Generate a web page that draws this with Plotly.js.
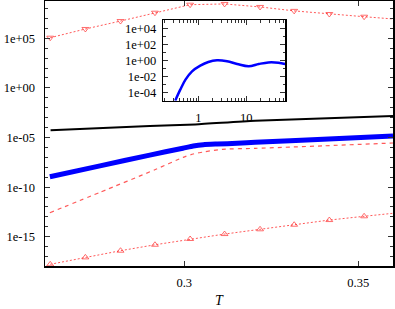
<!DOCTYPE html>
<html>
<head>
<meta charset="utf-8">
<script src="https://cdn.plot.ly/plotly-3.0.1.min.js"></script>
<style>html,body{margin:0;padding:0;background:#fff;}#chart{width:395px;height:309px;}</style>
</head>
<body>
<div id="chart"></div>
<script>
// ---- data ----
// upper red dotted series with down-triangle markers
const topX = [0.2615, 0.2716, 0.2817, 0.2916, 0.3017, 0.3116, 0.3218, 0.3316, 0.3417, 0.3517, 0.36];
const topY = [1.15e5, 8.7e5, 5.5e6, 3.8e7, 2.45e8, 2.9e8, 1.45e8, 5.8e7, 2.8e7, 1.5e7, 8.9e6];
const topMarkSize = [6, 6, 6, 6, 6, 6, 6, 6, 6, 6, 0];
// black solid series
const blackX = [0.2616, 0.2901, 0.3032, 0.3204, 0.36];
const blackY = [5.4e-5, 1.45e-4, 2.1e-4, 4.9e-4, 1.5e-3];
// thick blue series
const blueX = [0.2614, 0.2758, 0.2901, 0.2996, 0.3026, 0.3055, 0.3095, 0.3152, 0.3204, 0.3399, 0.36];
const blueY = [1.1e-9, 1.4e-8, 1.7e-7, 8.3e-7, 1.4e-6, 1.9e-6, 2.2e-6, 2.6e-6, 3.3e-6, 6.8e-6, 1.4e-5];
// red dashed series
const dashX = [0.2614, 0.2759, 0.2917, 0.2997, 0.3026, 0.3060, 0.3109, 0.3204, 0.3399, 0.36];
const dashY = [2.6e-13, 3.1e-11, 5.9e-9, 1.0e-7, 2.2e-7, 3.7e-7, 6.5e-7, 8.1e-7, 1.45e-6, 2.8e-6];
// lower red dotted series with up-triangle markers
const botX = [0.2615, 0.2716, 0.2817, 0.2916, 0.3017, 0.3116, 0.3218, 0.3316, 0.3417, 0.3517, 0.36];
const botY = [1.66e-18, 8.3e-18, 3.9e-17, 1.55e-16, 5.9e-16, 1.86e-15, 5.6e-15, 1.62e-14, 4.8e-14, 1.15e-13, 2.3e-13];
const botMarkSize = [6, 6, 6, 6, 6, 6, 6, 6, 6, 6, 0];
// inset blue curve
const insetX = [0.33, 0.42, 0.54, 0.74, 1.1, 1.62, 2.45, 3.98, 6.46, 11.2, 18.2, 28.8, 46.8, 64.6];
const insetY = [1e-5, 2.3e-4, 4.0e-3, 4.3e-2, 0.22, 0.63, 1.0, 0.76, 0.35, 0.18, 0.35, 0.56, 0.51, 0.35];

// tick labels
const mainXTicks = [0.3, 0.35];
const mainXText = ['0.3', '0.35'];
const mainYTicks = [1e-15, 1e-10, 1e-5, 1, 1e5];
const mainYText = ['1e-15', '1e-10', '1e-05', '1e+00', '1e+05'];
const insetXTicks = [1, 10];
const insetXText = ['1', '10'];
const insetYTicks = [1e-4, 1e-2, 1, 1e2, 1e4];
const insetYText = ['1e-04', '1e-02', '1e+00', '1e+02', '1e+04'];

// minor tick positions (decades / log digits)
const mainMinor = [];
for (let e = -18; e <= 9; e++) mainMinor.push(Math.pow(10, e));
const inYMinor = [];
for (let e = -5; e <= 5; e++) inYMinor.push(Math.pow(10, e));
const inXMinor = [];
[0.1, 1, 10].forEach(d => { for (let k = 2; k <= 9; k++) inXMinor.push(k * d); });

const red = 'rgba(255,60,60,0.85)';
const traces = [
  {x: topX, y: topY, mode: 'lines+markers', xaxis: 'x', yaxis: 'y',
   line: {color: red, width: 1, dash: '2px,2px'},
   marker: {symbol: 'triangle-down-open', size: topMarkSize, color: '#ff3030', line: {width: 1}}},
  {x: blackX, y: blackY, mode: 'lines', line: {color: '#000', width: 2, shape: 'spline', smoothing: 0.6}},
  {x: blueX, y: blueY, mode: 'lines', line: {color: '#0000ff', width: 5, shape: 'spline', smoothing: 0.6}},
  {x: dashX, y: dashY, mode: 'lines', line: {color: red, width: 1.2, dash: '4px,4px', shape: 'spline', smoothing: 0.6}},
  {x: botX, y: botY, mode: 'lines+markers',
   line: {color: red, width: 1, dash: '2px,2px'},
   marker: {symbol: 'triangle-up-open', size: botMarkSize, color: '#ff3030', line: {width: 1}}},
  {x: insetX, y: insetY, mode: 'lines', xaxis: 'x2', yaxis: 'y2', cliponaxis: true,
   line: {color: '#0000ff', width: 2.5, shape: 'spline', smoothing: 1}}
];

const font = {family: 'Liberation Serif, Times New Roman, serif', size: 12.5, color: '#000'};
const axBase = {showline: true, linecolor: '#000', linewidth: 1.5, mirror: 'ticks', ticks: 'inside',
  tickcolor: '#333', tickwidth: 1, ticklen: 5, showgrid: false, zeroline: false, tickfont: font};

const layout = {
  width: 395, height: 309,
  margin: {l: 45, r: 2, t: 1, b: 43},
  paper_bgcolor: '#fff', plot_bgcolor: '#fff',
  showlegend: false, font: font,
  xaxis: Object.assign({}, axBase, {range: [0.26, 0.36], tickmode: 'array', tickvals: mainXTicks, ticktext: mainXText,
    ticklabelstandoff: 4,
    title: {text: '<i>T</i>', font: {family: 'Liberation Serif, serif', size: 14, color: '#000'}, standoff: 6}}),
  yaxis: Object.assign({}, axBase, {type: 'log', range: [-17.95, 8.76], tickmode: 'array', tickvals: mainYTicks, ticktext: mainYText,
    ticklabelstandoff: 6,
    minor: {tickmode: 'array', tickvals: mainMinor, ticks: 'inside', ticklen: 3, tickcolor: '#333', showgrid: false}}),
  xaxis2: Object.assign({}, axBase, {type: 'log', anchor: 'y2', domain: [0.340, 0.690], range: [-0.73, 1.81],
    tickmode: 'array', tickvals: insetXTicks, ticktext: insetXText, ticklabelstandoff: 5,
    minor: {tickmode: 'array', tickvals: inXMinor, ticks: 'inside', ticklen: 2.5, tickcolor: '#333', showgrid: false}}),
  yaxis2: Object.assign({}, axBase, {type: 'log', anchor: 'x2', domain: [0.624, 0.928], range: [-5, 5],
    tickmode: 'array', tickvals: insetYTicks, ticktext: insetYText, ticklabelstandoff: 3,
    minor: {tickmode: 'array', tickvals: inYMinor, ticks: 'inside', ticklen: 2.5, tickcolor: '#333', showgrid: false}})
};

Plotly.newPlot('chart', traces, layout, {staticPlot: true, displayModeBar: false});
</script>
</body>
</html>
